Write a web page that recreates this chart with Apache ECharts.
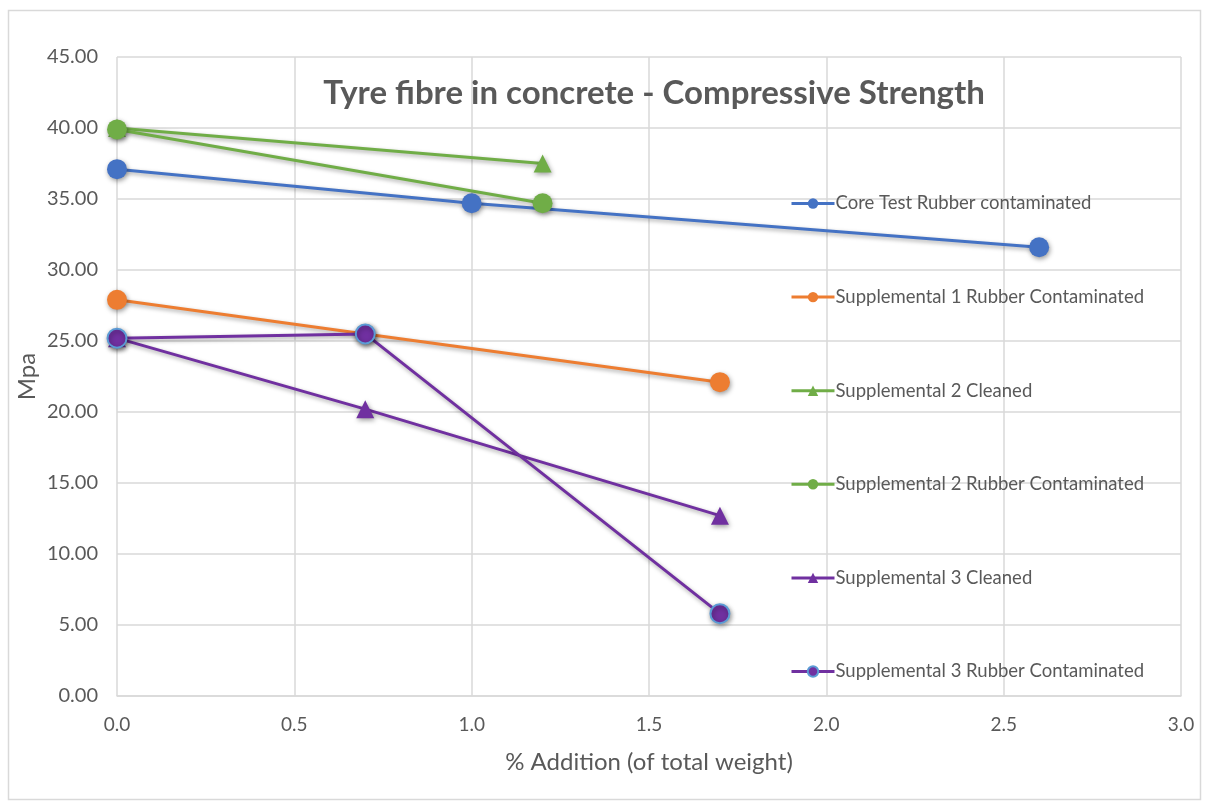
<!DOCTYPE html>
<html>
<head>
<meta charset="utf-8">
<script src="https://cdn.jsdelivr.net/npm/echarts@6/dist/echarts.min.js"></script>
<style>
  html, body { margin: 0; padding: 0; background: #fff; }
  #chart { width: 1205px; height: 803px; }
</style>
</head>
<body>
<div id="chart"></div>
<script>
// Compressive strength (MPa) against fibre addition (% of total weight)
const seriesNames = [
  'Core Test Rubber contaminated',
  'Supplemental 1 Rubber Contaminated',
  'Supplemental 2 Cleaned',
  'Supplemental 2 Rubber Contaminated',
  'Supplemental 3 Cleaned',
  'Supplemental 3 Rubber Contaminated'
];
const coreTestRubber = [[0, 37.1], [1.0, 34.7], [2.6, 31.6]];
const supp1Rubber = [[0, 27.9], [0.7, 25.5], [1.7, 22.1]];
const supp2Cleaned = [[0, 40.0], [1.2, 37.5]];
const supp2Rubber = [[0, 39.9], [1.2, 34.7]];
const supp3Cleaned = [[0, 25.2], [0.7, 20.2], [1.7, 12.7]];
const supp3Rubber = [[0, 25.2], [0.7, 25.5], [1.7, 5.8]];

const textColor = '#595959';
const gridColor = '#d9d9d9';

function makeSeries(name, data, color, symbol, size, border) {
  return {
    name: name,
    type: 'line',
    data: data,
    symbol: symbol,
    symbolSize: size,
    showAllSymbol: true,
    lineStyle: {
      color: color, width: 3,
      shadowColor: 'rgba(0,0,0,0.35)', shadowBlur: 4, shadowOffsetX: 1, shadowOffsetY: 2
    },
    itemStyle: {
      color: color,
      borderColor: border || color,
      borderWidth: border ? 2 : 0,
      shadowColor: 'rgba(0,0,0,0.4)', shadowBlur: 5, shadowOffsetX: 1, shadowOffsetY: 2
    },
    emphasis: { disabled: true },
    animation: false,
    z: 3
  };
}

const chart = echarts.init(document.getElementById('chart'));
chart.setOption({
  backgroundColor: '#ffffff',
  animation: false,
  title: {
    text: 'Tyre fibre in concrete - Compressive Strength',
    left: 649,
    textAlign: 'center',
    top: 72,
    textStyle: { fontFamily: 'Lato', fontWeight: 'bold', fontSize: 33, color: textColor }
  },
  graphic: [{
    type: 'rect',
    shape: { x: 8.5, y: 10.5, width: 1192, height: 789 },
    style: { fill: 'none', stroke: '#d9d9d9', lineWidth: 1.5 },
    silent: true
  }],
  legend: {
    orient: 'vertical',
    left: 790,
    top: 194,
    padding: 0,
    itemGap: 74.6,
    itemWidth: 43,
    itemHeight: 13,
    lineStyle: { width: 3, shadowBlur: 0, shadowOffsetX: 0, shadowOffsetY: 0 },
    itemStyle: { shadowBlur: 0, shadowOffsetX: 0, shadowOffsetY: 0 },
    textStyle: { fontFamily: 'Lato', fontSize: 18.5, color: textColor, padding: [0, 0, 0, -4] },
    data: seriesNames
  },
  grid: { left: 117, right: 24, top: 57, bottom: 107 },
  xAxis: {
    type: 'value',
    min: 0, max: 3, interval: 0.5,
    name: '% Addition (of total weight)',
    nameLocation: 'middle',
    nameGap: 54,
    nameTextStyle: { fontFamily: 'Lato', fontSize: 24, color: textColor },
    axisLine: { show: true, lineStyle: { color: gridColor, width: 1.5 } },
    axisTick: { show: false },
    axisLabel: {
      color: textColor, fontFamily: 'Lato', fontSize: 19, margin: 19,
      formatter: v => v.toFixed(1)
    },
    splitLine: { show: true, lineStyle: { color: gridColor, width: 1.5 } }
  },
  yAxis: {
    type: 'value',
    min: 0, max: 45, interval: 5,
    name: 'Mpa',
    nameLocation: 'middle',
    nameMoveOverlap: false,
    nameGap: 78,
    nameRotate: 90,
    nameTextStyle: { fontFamily: 'Lato', fontSize: 24, color: textColor },
    axisLine: { show: false },
    axisTick: { show: false },
    axisLabel: {
      color: textColor, fontFamily: 'Lato', fontSize: 20, margin: 19,
      formatter: v => v.toFixed(2)
    },
    splitLine: { show: true, lineStyle: { color: gridColor, width: 1.5 } }
  },
  series: [
    makeSeries(seriesNames[0], coreTestRubber, '#4472c4', 'circle', 20),
    makeSeries(seriesNames[1], supp1Rubber, '#ed7d31', 'circle', 20),
    makeSeries(seriesNames[2], supp2Cleaned, '#70ad47', 'triangle', 18),
    makeSeries(seriesNames[3], supp2Rubber, '#70ad47', 'circle', 20),
    makeSeries(seriesNames[4], supp3Cleaned, '#7030a0', 'triangle', 18),
    makeSeries(seriesNames[5], supp3Rubber, '#7030a0', 'circle', 19, '#5b9bd5')
  ]
});
</script>
</body>
</html>
